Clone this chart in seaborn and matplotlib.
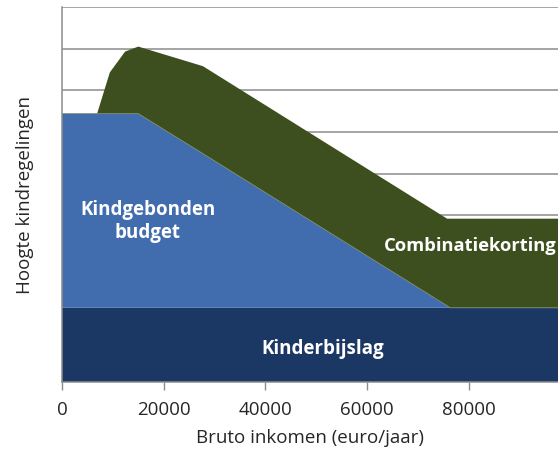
import numpy as np
import pandas as pd
import seaborn as sns
import matplotlib.pyplot as plt

# bruto inkomen (euro/jaar) and the height of each regeling
inkomen = [0, 6900, 9400, 12400, 15000, 27700, 75700, 76300, 97500]
kinderbijslag = [1.78, 1.78, 1.78, 1.78, 1.78, 1.78, 1.78, 1.78, 1.78]
kindgebonden = [4.66, 4.66, 4.66, 4.66, 4.66, 3.70, 0.05, 0.0, 0.0]
combinatiekorting = [0.0, 0.0, 0.99, 1.49, 1.61, 2.10, 2.09, 2.14, 2.14]

xticks = [0, 20000, 40000, 60000, 80000]
colors = ["#1B3764", "#416CAE", "#3E4F1F"]


def configStyle():
    sns.set_theme(style="white")
    plt.rcParams['font.family'] = ['Open Sans', 'DejaVu Sans']


def plotRegelingen():
    df = pd.DataFrame({"inkomen": inkomen, "kinderbijslag": kinderbijslag,
                       "kindgebonden": kindgebonden, "combinatiekorting": combinatiekorting})
    fig = plt.figure(figsize=(5.58, 4.53), dpi=100)
    ax = fig.add_axes([62 / 558, 1 - 382 / 453, 1 - 62 / 558, (382 - 7) / 453])

    ax.set_axisbelow(True)
    ax.yaxis.grid(True, color="#8c8c8c", linewidth=1.1)
    ax.stackplot(df["inkomen"], df["kinderbijslag"], df["kindgebonden"], df["combinatiekorting"],
                 colors=colors, edgecolor="none", zorder=2)
    # thin grey edge between the blue and green areas
    ax.plot(df["inkomen"], df["kinderbijslag"] + df["kindgebonden"], color="#7a8a6a",
            linewidth=0.6, zorder=3)

    ax.set_xlim(0, 97500)
    ax.set_ylim(0, 9)
    ax.set_yticks(np.arange(0, 10, 1))
    ax.set_yticklabels([])
    ax.tick_params(axis="y", length=0)
    ax.set_xticks(xticks)
    ax.set_xticklabels([str(t) for t in xticks], fontsize=13.5)
    ax.tick_params(axis="x", direction="out", length=6, width=1, color="#8c8c8c", pad=8)
    ax.xaxis.set_ticks_position("bottom")

    for s in ["top", "right"]:
        ax.spines[s].set_visible(False)
    for s in ["left", "bottom"]:
        ax.spines[s].set_color("#8c8c8c")
        ax.spines[s].set_linewidth(1.1)

    ax.set_xlabel("Bruto inkomen (euro/jaar)", fontsize=13.5, labelpad=7)
    ax.set_ylabel("Hoogte kindregelingen", fontsize=13.5, labelpad=17)

    ax.text(16900, 3.85, "Kindgebonden\nbudget", color="white", fontsize=13.5, fontweight="bold",
            ha="center", va="center", linespacing=1.2, zorder=4)
    ax.text(63200, 3.27, "Combinatiekorting", color="white", fontsize=13.2, fontweight="bold",
            ha="left", va="center", zorder=4)
    ax.text(51300, 0.79, "Kinderbijslag", color="white", fontsize=13.5, fontweight="bold",
            ha="center", va="center", zorder=4)

    plt.savefig("out.png", dpi=100)


configStyle()
plotRegelingen()
